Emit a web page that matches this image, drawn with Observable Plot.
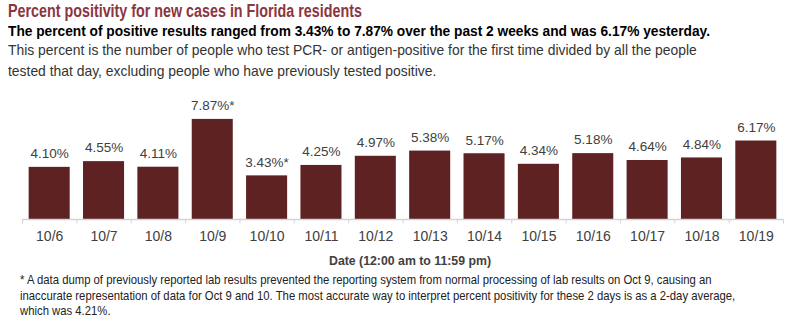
<!DOCTYPE html>
<html>
<head>
<meta charset="utf-8">
<script src="https://cdn.jsdelivr.net/npm/d3@7"></script>
<script src="https://cdn.jsdelivr.net/npm/@observablehq/plot@0.6"></script>
<style>
  body { margin: 0; background: #fff; width: 804px; height: 330px; overflow: hidden; }
  .t { position: absolute; white-space: nowrap; transform-origin: 0 0; }
  #title { left: 8px; top: 1px; font: bold 18px "Liberation Sans", sans-serif; color: #8b3640; transform: scaleX(0.795); }
  #subtitle { left: 8px; top: 23px; font: bold 14px "Liberation Sans", sans-serif; color: #000; transform: scaleX(0.98); }
  #desc { left: 8px; top: 40px; font: 13.9px "Liberation Sans", sans-serif; color: #333; line-height: 21px; }
  #chart { position: absolute; left: 0; top: 88px; }
  #foot { left: 20px; top: 272px; font: 13px "Liberation Sans", sans-serif; color: #222; line-height: 15.5px; transform: scaleX(0.87); }
</style>
</head>
<body>
<div id="title" class="t">Percent positivity for new cases in Florida residents</div>
<div id="subtitle" class="t">The percent of positive results ranged from 3.43% to 7.87% over the past 2 weeks and was 6.17% yesterday.</div>
<div id="desc" class="t">This percent is the number of people who test PCR- or antigen-positive for the first time divided by all the people<br>tested that day, excluding people who have previously tested positive.</div>
<div id="chart"></div>
<div id="foot" class="t">* A data dump of previously reported lab results prevented the reporting system from normal processing of lab results on Oct 9, causing an<br>inaccurate representation of data for Oct 9 and 10. The most accurate way to interpret percent positivity for these 2 days is as a 2-day average,<br>which was 4.21%.</div>
<script>
const dates = ["10/6","10/7","10/8","10/9","10/10","10/11","10/12","10/13","10/14","10/15","10/16","10/17","10/18","10/19"];
const values = [4.10, 4.55, 4.11, 7.87, 3.43, 4.25, 4.97, 5.38, 5.17, 4.34, 5.18, 4.64, 4.84, 6.17];
const labels = ["4.10%","4.55%","4.11%","7.87%*","3.43%*","4.25%","4.97%","5.38%","5.17%","4.34%","5.18%","4.64%","4.84%","6.17%"];
const axisTitle = "Date (12:00 am to 11:59 pm)";

const data = dates.map((d, i) => ({date: d, value: values[i], label: labels[i]}));
const W = 804, ML = 22, MR = 21;
const step = (W - ML - MR) / dates.length;
const font = '"Liberation Sans", sans-serif';

const chart = Plot.plot({
  width: W,
  height: 180,
  marginLeft: ML,
  marginRight: MR,
  marginTop: 0,
  marginBottom: 49,
  style: {fontFamily: font, background: "transparent", overflow: "visible"},
  x: {domain: dates, paddingInner: 0.245, paddingOuter: 0.1225, round: false, label: null},
  y: {domain: [0, 10.3], axis: null},
  marks: [
    Plot.barY(data, {x: "date", y: "value", fill: "#5e2222"}),
    Plot.ruleY([0], {stroke: "#d4d4d4", strokeWidth: 1.5}),
    Plot.ruleX(dates, {x: d => d, dx: -step / 2, y1: 0, y2: -0.35, stroke: "#d4d4d4"}),
    Plot.ruleX([dates[dates.length - 1]], {x: d => d, dx: step / 2, y1: 0, y2: -0.35, stroke: "#d4d4d4"}),
    Plot.text(data, {x: "date", y: "value", text: "label", dy: -13.5, fill: "#404040", fontSize: 13.5, lineAnchor: "middle"}),
    Plot.axisX({tickSize: 0, tickPadding: 12, fontSize: 14, color: "#404040", label: null}),
    Plot.text([axisTitle], {frameAnchor: "bottom", dy: 42, dx: 7, fill: "#404040", fontSize: 12.3, fontWeight: "bold", lineAnchor: "middle"})
  ]
});
document.getElementById("chart").appendChild(chart);
</script>
</body>
</html>
